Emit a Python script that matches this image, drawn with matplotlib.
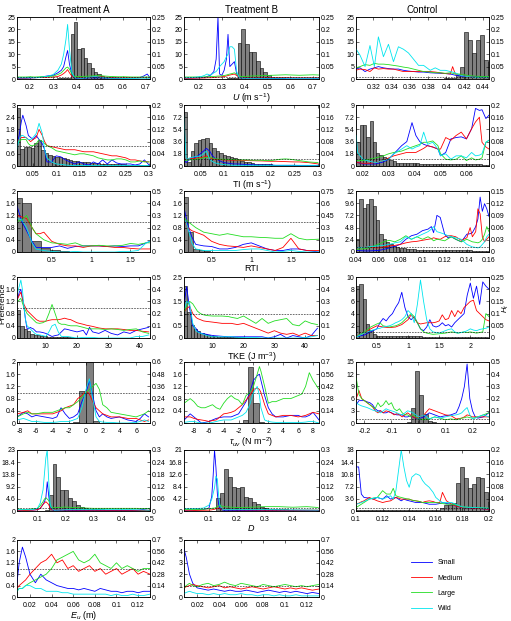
import numpy as np
import matplotlib.pyplot as plt
from matplotlib.lines import Line2D
from matplotlib.ticker import FuncFormatter

plt.rcParams['font.family'] = ['Liberation Sans', 'DejaVu Sans']
plt.rcParams['mathtext.fontset'] = 'custom'
plt.rcParams['mathtext.rm'] = 'Liberation Sans'
plt.rcParams['mathtext.it'] = 'Liberation Sans:italic'

# ---------------- data (preference lines on left axis, habitat bars on right axis) ----------------
groups = ['Small', 'Medium', 'Large', 'Wild']
treatments = ['Treatment A', 'Treatment B', 'Control']

# U, treatment A
u_a_x = [0.145, 0.16, 0.18, 0.2, 0.22, 0.24, 0.26, 0.28, 0.3, 0.32, 0.335, 0.345, 0.355, 0.362, 0.37, 0.38,
         0.39, 0.40, 0.42, 0.44, 0.46, 0.48, 0.50, 0.52, 0.55, 0.58, 0.61, 0.64, 0.67, 0.69, 0.705, 0.717]
u_a_small = [0.3, 0.3, 0.3, 0.4, 0.5, 0.6, 1.0, 1.3, 1.5, 2.5, 3.5, 5.0, 9.0, 11.5, 6.0, 2.0,
             0.6, 0.3, 0.3, 0.4, 0.5, 0.4, 0.5, 0.4, 0.4, 0.3, 0.3, 0.4, 0.5, 1.2, 2.0, 0.5]
u_a_medium = [0.4, 0.4, 0.4, 0.5, 0.5, 0.6, 0.6, 0.7, 0.8, 1.0, 1.6, 2.2, 3.0, 3.8, 2.5, 1.2,
              0.7, 0.5, 0.5, 0.6, 0.8, 1.0, 1.0, 0.8, 0.6, 0.5, 0.5, 0.5, 0.5, 0.5, 0.5, 0.5]
u_a_large = [0.8, 0.8, 0.8, 0.9, 0.8, 0.9, 1.0, 1.0, 1.2, 1.8, 2.5, 3.5, 4.5, 4.8, 4.0, 2.0,
             1.2, 1.0, 1.0, 1.1, 1.2, 1.3, 1.4, 1.2, 1.0, 0.9, 0.9, 0.8, 0.8, 0.8, 0.8, 0.8]
u_a_wild = [0.5, 0.5, 0.5, 0.6, 0.5, 0.6, 0.9, 1.2, 1.8, 3.5, 6.0, 10.0, 16.0, 22.0, 12.0, 3.0,
            0.8, 0.4, 0.3, 0.5, 0.8, 1.0, 0.8, 0.5, 0.3, 0.3, 0.2, 0.2, 0.3, 0.3, 0.3, 0.3]
u_a_bin0, u_a_binw = 0.303, 0.0144
u_a_bars = [0.002, 0.003, 0.003, 0.004, 0.006, 0.183, 0.23, 0.12, 0.126, 0.083, 0.063, 0.043, 0.029, 0.02,
            0.013, 0.01, 0.008, 0.006, 0.005, 0.004, 0.003, 0.003, 0.002, 0.002, 0.002, 0.002, 0.002, 0.002,
            0.002, 0.002]

# U, treatment B
u_b_x = [0.135, 0.15, 0.17, 0.19, 0.21, 0.225, 0.235, 0.25, 0.265, 0.275, 0.283, 0.29, 0.30, 0.31, 0.32,
         0.327, 0.335, 0.345, 0.355, 0.365, 0.375, 0.39, 0.41, 0.43, 0.46, 0.49, 0.52, 0.55, 0.58, 0.61,
         0.64, 0.67, 0.70, 0.726]
u_b_small = [0.3, 0.3, 0.4, 0.4, 0.5, 0.6, 1.0, 1.5, 3.0, 8.0, 25.0, 2.0, 1.5, 3.5, 8.0, 18.0, 5.0, 6.0,
             7.0, 2.0, 0.6, 0.4, 0.4, 0.4, 0.3, 0.3, 0.3, 0.3, 0.3, 0.3, 0.3, 0.3, 0.3, 0.3]
u_b_medium = [0.3, 0.3, 0.3, 0.4, 0.4, 0.4, 0.5, 0.5, 0.6, 0.7, 0.8, 0.8, 0.9, 1.0, 1.2, 1.4, 1.6, 1.8,
              2.0, 1.4, 0.8, 0.6, 0.5, 0.5, 0.5, 0.6, 0.6, 0.6, 0.6, 0.5, 0.5, 0.5, 0.5, 0.5]
u_b_large = [0.8, 0.8, 0.8, 0.8, 0.8, 0.9, 0.9, 1.0, 1.0, 1.1, 1.2, 1.2, 1.3, 1.4, 1.6, 1.8, 2.0, 2.2,
             2.5, 2.0, 1.2, 1.0, 1.1, 1.2, 1.3, 1.4, 1.5, 1.6, 1.7, 1.6, 1.5, 1.6, 1.7, 1.6]
u_b_wild = [0.5, 0.5, 0.6, 0.8, 1.0, 1.5, 2.0, 1.5, 2.5, 3.0, 4.0, 5.0, 6.0, 7.0, 9.0, 10.0, 13.0, 13.0,
            12.0, 3.0, 0.8, 0.4, 0.3, 0.3, 0.3, 0.3, 0.3, 0.3, 0.3, 0.3, 0.3, 0.3, 0.3, 0.3]
u_b_bin0, u_b_binw = 0.29, 0.016
u_b_bars = [0.002, 0.002, 0.003, 0.003, 0.004, 0.145, 0.203, 0.14, 0.11, 0.11, 0.072, 0.043, 0.03, 0.018,
            0.01, 0.006, 0.004, 0.003, 0.002, 0.002, 0.002, 0.002, 0.002, 0.002, 0.002, 0.002, 0.002, 0.002]

# U, control
u_c_x = [0.3006, 0.3054, 0.3109, 0.3163, 0.3211, 0.3255, 0.3310, 0.3365, 0.3420, 0.3474, 0.3529, 0.3584,
         0.3639, 0.3694, 0.3749, 0.3822, 0.3877, 0.3932, 0.3987, 0.4042, 0.4067, 0.4096, 0.4151, 0.4225,
         0.4298, 0.4371, 0.4444, 0.4473]
u_c_small = [4.0, 4.5, 3.0, 4.0, 4.5, 5.0, 4.5, 4.2, 4.0, 4.0, 3.5, 3.2, 3.0, 2.8, 2.8, 2.5, 2.4, 2.3, 2.2,
             2.0, 1.8, 1.5, 1.2, 1.0, 0.9, 0.8, 0.8, 0.8]
u_c_medium = [3.5, 4.0, 3.8, 3.0, 4.5, 4.0, 4.2, 4.0, 4.0, 3.5, 3.0, 3.0, 3.0, 3.0, 3.0, 3.0, 2.8, 2.5, 2.2,
              2.0, 5.0, 2.0, 1.8, 1.0, 0.8, 0.5, 0.5, 0.5]
u_c_large = [4.5, 5.0, 5.8, 5.5, 6.3, 6.0, 6.0, 5.8, 5.5, 5.2, 4.8, 4.5, 4.0, 3.5, 3.0, 2.8, 2.5, 2.5, 2.3,
             2.5, 2.3, 2.0, 2.0, 1.5, 1.2, 1.0, 1.0, 1.0]
u_c_wild = [12.3, 9.6, 5.0, 13.5, 5.0, 17.0, 9.0, 14.0, 7.0, 13.0, 12.0, 10.5, 8.0, 5.5, 5.5, 3.5, 4.5, 3.5,
            3.5, 3.0, 2.8, 2.5, 1.5, 1.0, 0.7, 0.5, 0.5, 0.5]
u_c_bin0, u_c_binw = 0.3928, 0.0044
u_c_bars = [0.002, 0.003, 0.004, 0.006, 0.015, 0.05, 0.19, 0.156, 0.106, 0.156, 0.178, 0.076, 0.07]

# TI, treatment A
ti_a_x = [0.015, 0.02, 0.025, 0.028, 0.035, 0.04, 0.045, 0.05, 0.057, 0.063, 0.07, 0.075, 0.08, 0.09, 0.1,
          0.11, 0.12, 0.13, 0.14, 0.15, 0.16, 0.17, 0.18, 0.19, 0.2, 0.21, 0.22, 0.23, 0.24, 0.25, 0.26,
          0.27, 0.28, 0.29, 0.3]
ti_a_small = [1.0, 1.5, 2.2, 2.5, 2.0, 1.5, 1.4, 1.3, 1.5, 1.3, 1.1, 0.8, 0.2, 0.2, 0.5, 0.45, 0.3, 0.2,
              0.1, 0.2, 0.1, 0.05, 0.2, 0.1, 0.3, 0.1, 0.3, 0.15, 0.1, 0.1, 0.1, 0.05, 0.1, 0.3, 0.05]
ti_a_medium = [1.2, 1.3, 1.4, 1.4, 1.4, 1.3, 1.2, 1.3, 1.4, 1.8, 1.5, 1.2, 1.0, 0.95, 0.9, 0.85, 0.8, 0.8,
               0.8, 0.75, 0.7, 0.7, 0.7, 0.65, 0.6, 0.55, 0.5, 0.5, 0.45, 0.4, 0.3, 0.3, 0.25, 0.22, 0.2]
ti_a_large = [1.1, 1.2, 1.3, 1.3, 1.3, 1.1, 1.0, 1.0, 1.1, 1.3, 1.2, 1.1, 1.0, 0.9, 0.75, 0.7, 0.65, 0.6,
              0.55, 0.6, 0.6, 0.55, 0.5, 0.4, 0.35, 0.3, 0.3, 0.35, 0.35, 0.3, 0.2, 0.2, 0.25, 0.2, 0.2]
ti_a_wild = [0.8, 1.3, 1.5, 1.5, 1.4, 1.3, 1.3, 1.4, 1.6, 2.1, 1.6, 0.8, 0.4, 0.2, 0.1, 0.08, 0.05, 0.03,
             0.02, 0.02, 0.02, 0.02, 0.02, 0.02, 0.02, 0.02, 0.02, 0.02, 0.02, 0.02, 0.02, 0.02, 0.02,
             0.02, 0.02]
ti_a_bin0, ti_a_binw = 0.015, 0.0075
ti_a_bars = [0.19, 0.057, 0.063, 0.063, 0.06, 0.074, 0.085, 0.052, 0.044, 0.037, 0.033, 0.03, 0.03,
             0.026, 0.022, 0.02, 0.018, 0.016, 0.014, 0.013, 0.012, 0.011, 0.01, 0.009, 0.008, 0.008,
             0.007, 0.006, 0.006, 0.005, 0.005, 0.004, 0.004, 0.003, 0.003, 0.003, 0.002, 0.002]

# TI, treatment B
ti_b_x = ti_a_x
ti_b_small = [1.0, 0.5, 0.8, 1.0, 1.2, 1.3, 1.5, 1.8, 2.2, 2.6, 2.2, 1.6, 1.2, 0.8, 0.5, 0.4, 0.3, 0.3,
              0.25, 0.2, 0.2, 0.15, 0.15, 0.15, 0.15, 0.1, 0.1, 0.1, 0.1, 0.1, 0.08, 0.08, 0.05, 0.05, 0.05]
ti_b_medium = [1.0, 1.0, 1.05, 1.1, 1.1, 1.15, 1.2, 1.2, 1.3, 1.5, 1.2, 1.1, 1.0, 0.95, 0.9, 0.88, 0.85,
               0.85, 0.82, 0.8, 0.78, 0.76, 0.75, 0.72, 0.7, 0.7, 0.68, 0.65, 0.62, 0.6, 0.6, 0.55, 0.5,
               0.4, 0.3]
ti_b_large = [0.8, 0.85, 0.9, 0.9, 0.95, 1.0, 1.05, 1.1, 1.2, 1.25, 1.3, 1.2, 1.1, 1.0, 1.0, 0.95, 0.95,
              0.9, 0.9, 0.9, 0.85, 0.85, 0.85, 0.8, 0.8, 0.9, 1.0, 1.05, 1.0, 0.9, 0.8, 0.7, 0.6, 0.55, 0.5]
ti_b_wild = [7.5, 1.0, 1.1, 1.2, 1.3, 1.4, 1.4, 1.5, 1.8, 2.2, 1.0, 0.7, 0.5, 0.3, 0.2, 0.15, 0.1, 0.1,
             0.1, 0.1, 0.1, 0.1, 0.1, 0.1, 0.1, 0.1, 0.1, 0.1, 0.1, 0.1, 0.1, 0.1, 0.1, 0.1, 0.1]
ti_b_bin0, ti_b_binw = 0.015, 0.0075
ti_b_bars = [0.178, 0.012, 0.05, 0.075, 0.085, 0.09, 0.092, 0.075, 0.06, 0.05, 0.042, 0.036, 0.032,
             0.031, 0.026, 0.022, 0.018, 0.014, 0.012, 0.01, 0.008, 0.007, 0.006, 0.005, 0.005, 0.004,
             0.004, 0.003, 0.003, 0.003, 0.003, 0.002, 0.002, 0.002, 0.002, 0.002, 0.002, 0.002]

# TI, control
ti_c_x = [0.0175, 0.018, 0.02, 0.0225, 0.025, 0.028, 0.03, 0.032, 0.035, 0.037, 0.039, 0.0405, 0.042,
          0.0435, 0.045, 0.047, 0.049, 0.05, 0.052, 0.054, 0.056, 0.058, 0.06, 0.062, 0.0635, 0.065, 0.066,
          0.0675, 0.0687]
ti_c_small = [0.5, 0.5, 0.3, 0.3, 0.3, 0.6, 1.0, 1.8, 3.0, 3.6, 6.4, 4.5, 3.6, 3.2, 3.0, 2.8, 2.5, 1.5,
              2.0, 4.0, 4.2, 4.3, 4.0, 5.5, 8.5, 8.2, 8.3, 7.0, 7.5]
ti_c_medium = [0.5, 0.5, 0.4, 0.4, 0.5, 0.8, 1.2, 1.5, 1.8, 2.0, 2.0, 2.0, 2.3, 2.6, 3.0, 2.8, 2.5, 2.5,
               4.2, 3.8, 4.5, 5.0, 4.0, 5.5, 6.5, 7.2, 3.5, 2.8, 2.5]
ti_c_large = [0.8, 0.8, 0.8, 1.0, 1.2, 1.5, 1.8, 2.0, 2.2, 2.5, 2.8, 3.0, 3.2, 3.5, 3.5, 3.7, 3.0, 1.8,
              1.0, 0.9, 1.0, 1.5, 0.8, 1.2, 0.9, 1.0, 1.2, 3.5, 3.8]
ti_c_wild = [4.5, 2.0, 1.0, 0.7, 0.5, 0.8, 1.0, 1.8, 2.5, 3.0, 2.5, 2.8, 3.0, 5.0, 3.2, 3.5, 2.5, 1.5,
             1.8, 1.0, 1.5, 1.5, 1.2, 2.0, 1.5, 1.6, 1.8, 3.5, 3.8]
ti_c_bin0, ti_c_binw = 0.0175, 0.00128
ti_c_bars = [0.08, 0.136, 0.136, 0.096, 0.147, 0.079, 0.044, 0.035, 0.031, 0.025, 0.02, 0.015, 0.011,
             0.009, 0.009, 0.009, 0.009, 0.009, 0.009, 0.008, 0.008, 0.008, 0.008, 0.008, 0.008, 0.008,
             0.007, 0.007, 0.007, 0.006, 0.006, 0.006, 0.005, 0.005, 0.005, 0.005, 0.005, 0.005, 0.004,
             0.004]

# RTI, treatment A
rti_a_x = [0.06, 0.12, 0.18, 0.25, 0.3, 0.35, 0.4, 0.45, 0.5, 0.6, 0.7, 0.8, 0.9, 1.0, 1.1, 1.2, 1.3, 1.4,
           1.5, 1.6, 1.7, 1.75]
rti_a_small = [1.5, 1.0, 0.7, 0.35, 0.15, 0.15, 0.15, 0.15, 0.15, 0.2, 0.12, 0.18, 0.2, 0.2, 0.2, 0.18,
               0.2, 0.18, 0.2, 0.2, 0.3, 0.35]
rti_a_medium = [1.2, 1.15, 1.1, 0.8, 0.6, 0.6, 0.65, 0.5, 0.35, 0.25, 0.2, 0.2, 0.15, 0.2, 0.2, 0.18,
                0.15, 0.15, 0.12, 0.1, 0.1, 0.1]
rti_a_large = [1.0, 1.05, 1.2, 0.8, 0.6, 0.5, 0.4, 0.35, 0.3, 0.28, 0.25, 0.3, 0.2, 0.2, 0.22, 0.2, 0.2,
               0.22, 0.28, 0.25, 0.3, 0.3]
rti_a_wild = [1.1, 1.05, 0.8, 0.3, 0.1, 0.07, 0.05, 0.03, 0.02, 0.0, 0.0, 0.02, 0.0, 0.0, 0.0, 0.0, 0.0,
              0.02, 0.02, 0.05, 0.3, 0.35]
rti_a_bin0, rti_a_binw = 0.0, 0.12
rti_a_bars = [0.44, 0.40, 0.088, 0.033, 0.013, 0.006, 0.004, 0.003, 0.002, 0.002, 0.002, 0.001, 0.001,
              0.001, 0.001]

# RTI, treatment B
rti_b_x = [0.16, 0.2, 0.25, 0.3, 0.4, 0.5, 0.6, 0.7, 0.8, 0.9, 1.0, 1.1, 1.2, 1.3, 1.4, 1.5, 1.6, 1.7, 1.85]
rti_b_small = [1.35, 0.9, 0.5, 0.25, 0.2, 0.18, 0.1, 0.1, 0.15, 0.25, 0.3, 0.2, 0.1, 0.05, 0.05, 0.1, 0.1,
               0.05, 0.0]
rti_b_medium = [1.0, 0.8, 0.7, 0.65, 0.55, 0.35, 0.25, 0.2, 0.18, 0.15, 0.2, 0.15, 0.1, 0.05, 0.15, 0.45,
                0.1, 0.05, 0.05]
rti_b_large = [1.1, 1.0, 0.9, 0.8, 0.65, 0.6, 0.55, 0.6, 0.55, 0.5, 0.5, 0.48, 0.47, 0.45, 0.45, 0.6, 0.45,
               0.4, 0.42]
rti_b_wild = [1.05, 0.8, 0.3, 0.1, 0.05, 0.05, 0.05, 0.05, 0.05, 0.08, 0.1, 0.1, 0.05, 0.0, 0.02, 0.05,
              0.02, 0.0, 0.0]
rti_b_bin0, rti_b_binw = 0.13, 0.07
rti_b_bars = [0.675, 0.25, 0.04, 0.02, 0.01, 0.006, 0.004, 0.003, 0.003, 0.002, 0.002, 0.002, 0.002, 0.001,
              0.001, 0.001, 0.001, 0.001, 0.001, 0.001, 0.001, 0.001, 0.001, 0.001, 0.001]

# RTI, control
rti_c_x = [0.04, 0.05, 0.06, 0.065, 0.07, 0.075, 0.08, 0.085, 0.09, 0.095, 0.1, 0.105, 0.108, 0.11, 0.113,
           0.116, 0.12, 0.123, 0.126, 0.13, 0.135, 0.14, 0.143, 0.145, 0.148, 0.15, 0.152, 0.154, 0.156,
           0.158, 0.16]
rti_c_small = [0.3, 0.2, 0.3, 0.5, 0.8, 1.1, 1.5, 2.5, 3.2, 3.5, 4.2, 4.5, 5.0, 3.8, 7.2, 6.8, 3.5, 2.8,
               3.0, 2.5, 2.0, 3.5, 3.6, 3.8, 5.0, 6.5, 10.8, 8.0, 9.5, 8.5, 7.0]
rti_c_medium = [0.8, 1.0, 0.8, 1.0, 1.2, 1.3, 1.5, 1.8, 2.0, 2.1, 2.3, 2.5, 2.6, 2.8, 2.6, 2.5, 3.0, 3.2,
                3.2, 3.0, 2.3, 2.8, 4.8, 3.0, 4.0, 8.5, 7.5, 3.0, 2.0, 2.5, 3.0]
rti_c_large = [0.5, 0.7, 1.5, 2.0, 2.3, 2.0, 2.5, 3.2, 2.5, 3.0, 2.5, 3.0, 2.6, 2.2, 2.5, 2.4, 2.2, 2.6,
               3.0, 2.5, 2.0, 2.5, 2.2, 2.0, 1.9, 1.8, 2.0, 2.5, 3.5, 5.0, 4.0]
rti_c_wild = [0.8, 1.0, 1.2, 1.3, 1.5, 1.8, 2.0, 3.0, 2.5, 3.0, 3.5, 4.0, 4.5, 5.0, 4.0, 3.8, 3.5, 3.2,
              3.0, 2.8, 2.5, 1.5, 1.2, 1.0, 0.9, 0.8, 1.0, 1.5, 2.0, 3.0, 3.5]
rti_c_bin0, rti_c_binw = 0.04, 0.003
rti_c_bars = [0.033, 0.13, 0.108, 0.119, 0.131, 0.113, 0.078, 0.045, 0.033, 0.025, 0.019, 0.015, 0.012,
              0.01, 0.009, 0.008, 0.007, 0.007, 0.006, 0.006, 0.006, 0.006, 0.006, 0.005, 0.005, 0.005,
              0.005, 0.005, 0.005, 0.004, 0.004, 0.004, 0.004, 0.004, 0.004, 0.003, 0.003, 0.003, 0.003,
              0.003]

# TKE, treatment A
tke_a_x = [1, 1.5, 2, 2.5, 3, 3.5, 4, 4.5, 5, 5.5, 6, 6.5, 7, 8, 9, 10, 11, 12, 13, 14, 15, 16, 17, 18, 20,
           22, 23, 24, 25, 27, 29, 31, 33, 35, 37, 39, 41, 43]
tke_a_small = [1.3, 1.5, 1.6, 1.3, 1.0, 0.6, 0.3, 0.3, 0.35, 0.32, 0.3, 0.25, 0.2,
               0.2, 0.18, 0.15, 0.1, 0.05, 0.08, 0.1, 0.2, 0.3, 0.28, 0.25,
               0.2, 0.25, 0.1, 0.35, 0.2, 0.15, 0.25, 0.15, 0.1, 0.2, 0.15, 0.25, 0.3, 0.35]
tke_a_medium = [1.3, 1.4, 1.5, 1.3, 1.1, 1.0, 0.9, 0.85, 0.8, 0.75, 0.7, 0.65, 0.6,
                0.55, 0.55, 0.55, 0.58, 0.6, 0.6, 0.6, 0.62, 0.65, 0.62, 0.6,
                0.5, 0.45, 0.42, 0.4, 0.38, 0.33, 0.3, 0.3, 0.3, 0.28, 0.25, 0.25, 0.22, 0.2]
tke_a_large = [1.2, 1.25, 1.3, 1.15, 1.0, 0.9, 0.8, 0.75, 0.7, 0.65, 0.6, 0.55, 0.5,
               0.48, 0.5, 0.55, 0.8, 1.1, 0.8, 0.5, 0.45, 0.45, 0.42, 0.4,
               0.4, 0.35, 0.32, 0.3, 0.3, 0.3, 0.28, 0.3, 0.28, 0.25, 0.28, 0.3, 0.2, 0.15]
tke_a_wild = [1.5, 1.7, 1.9, 1.6, 1.0, 0.6, 0.4, 0.35, 0.3, 0.25, 0.2, 0.15, 0.12,
              0.1, 0.08, 0.05, 0.2, 0.4, 0.45, 0.2, 0.05, 0.05, 0.05, 0.03,
              0.0, 0.02, 0.02, 0.02, 0.02, 0.0, 0.0, 0.0, 0.0, 0.0, 0.0, 0.05, 0.05, 0.1]
tke_a_bin0, tke_a_binw = 0.77, 1.06
tke_a_bars = [0.227, 0.1, 0.077, 0.055, 0.036, 0.027, 0.022, 0.018, 0.015, 0.012, 0.01, 0.009, 0.008,
              0.007, 0.006, 0.005, 0.005, 0.004, 0.004, 0.003, 0.003, 0.003, 0.003, 0.002, 0.002, 0.002,
              0.002, 0.002, 0.002, 0.002, 0.002, 0.002, 0.002, 0.002, 0.002, 0.002, 0.002, 0.002, 0.002,
              0.002]

# TKE, treatment B
tke_b_x = [0.8, 1.5, 2.5, 3.5, 4.5, 5, 6, 7, 8, 10, 13, 15, 16, 18, 20, 22, 24, 26, 28, 30, 32, 34, 36, 38,
           40, 42, 44]
tke_b_small = [1.5, 2.1, 1.2, 0.5, 0.4, 0.3, 0.2, 0.18, 0.15, 0.1, 0.07, 0.05, 0.05, 0.05, 0.05, 0.05,
               0.05, 0.05, 0.0, 0.05, 0.15, 0.0, 0.1, 0.05, 0.0, 0.1, 0.4]
tke_b_medium = [1.1, 1.2, 1.3, 1.0, 0.85, 0.8, 0.75, 0.7, 0.68, 0.65, 0.6, 0.6, 0.6, 0.55, 0.6, 0.5, 0.4,
                0.3, 0.2, 0.3, 0.2, 0.15, 0.2, 0.1, 0.2, 0.1, 0.1]
tke_b_large = [1.1, 1.3, 1.5, 1.4, 1.2, 1.1, 1.0, 0.95, 0.92, 0.9, 0.9, 0.88, 0.85, 0.8, 0.9, 0.75, 0.6,
               0.8, 0.6, 0.7, 0.75, 0.8, 0.55, 0.5, 0.7, 0.6, 0.55]
tke_b_wild = [1.2, 1.5, 1.4, 0.6, 0.3, 0.25, 0.2, 0.15, 0.1, 0.05, 0.05, 0.05, 0.05, 0.03, 0.02, 0.02,
              0.02, 0.0, 0.0, 0.0, 0.0, 0.0, 0.0, 0.0, 0.02, 0.05, 0.1]
tke_b_bin0, tke_b_binw = 0.65, 1.07
tke_b_bars = [0.43, 0.21, 0.104, 0.077, 0.055, 0.04, 0.03, 0.022, 0.018, 0.015, 0.012, 0.01, 0.009, 0.008,
              0.007, 0.006, 0.005, 0.005, 0.004, 0.004, 0.003, 0.003, 0.003, 0.003, 0.002, 0.002, 0.002,
              0.002, 0.002, 0.002, 0.002, 0.002, 0.002, 0.002, 0.002, 0.002, 0.002, 0.002, 0.002, 0.002,
              0.002]

# TKE, control
tke_c_x = [0.17, 0.3, 0.4, 0.5, 0.55, 0.6, 0.65, 0.7, 0.75, 0.8, 0.85, 0.9, 0.95, 1.0, 1.05, 1.1, 1.15,
           1.2, 1.25, 1.3, 1.35, 1.4, 1.45, 1.5, 1.55, 1.6, 1.65, 1.7, 1.75, 1.8, 1.85, 1.9, 1.95, 2.0,
           2.05, 2.1, 2.15, 2.2, 2.25, 2.3]
tke_c_small = [0.2, 0.5, 1.0, 1.5, 2.5, 3.2, 2.8, 3.5, 4.0, 5.0, 5.8, 7.5, 5.0, 3.5, 3.0, 3.5, 2.5, 1.5,
               1.2, 1.8, 3.0, 2.0, 1.8, 2.0, 2.5, 2.0, 2.2, 1.8, 2.5, 3.0, 3.5, 4.0, 7.0, 9.0, 6.5, 8.5,
               5.5, 9.2, 8.5, 8.0]
tke_c_medium = [0.3, 0.8, 1.5, 2.0, 1.9, 1.8, 1.75, 1.7, 1.75, 1.8, 2.0, 2.2, 2.6, 3.0, 3.8, 3.2, 2.5,
                2.3, 2.4, 2.5, 2.5, 2.5, 2.6, 2.8, 3.8, 3.0, 3.2, 4.5, 3.5, 4.5, 4.0, 5.0, 5.5, 6.0, 6.2,
                4.5, 4.0, 3.5, 3.0, 2.8]
tke_c_large = [0.2, 1.0, 1.8, 2.3, 2.5, 2.0, 1.9, 1.8, 1.9, 2.0, 2.2, 2.5, 3.0, 3.5, 4.0, 3.5, 2.5, 1.5,
               1.0, 0.8, 0.7, 0.6, 0.65, 0.7, 0.75, 0.8, 0.9, 1.0, 0.9, 0.8, 0.9, 1.0, 0.9, 1.0, 0.9, 0.8,
               0.9, 1.0, 4.0, 3.5]
tke_c_wild = [0.2, 0.8, 1.2, 1.5, 1.6, 1.8, 1.9, 2.0, 2.2, 2.5, 2.7, 3.0, 3.5, 4.5, 4.0, 2.5, 5.5, 9.5,
              6.0, 3.0, 1.5, 1.0, 0.9, 0.8, 1.0, 1.2, 1.4, 1.5, 1.0, 0.8, 0.9, 1.0, 1.2, 1.5, 1.3, 1.2,
              1.4, 1.5, 1.6, 1.8]
tke_c_bin0, tke_c_binw = 0.165, 0.053
tke_c_bars = [0.215, 0.22, 0.161, 0.059, 0.031, 0.018, 0.01, 0.009, 0.008, 0.007, 0.007, 0.007, 0.007,
              0.007, 0.007, 0.007, 0.008, 0.008, 0.009, 0.008, 0.006, 0.005, 0.005, 0.005, 0.004, 0.004,
              0.004, 0.004, 0.004, 0.003, 0.003, 0.003, 0.003, 0.003, 0.003, 0.003, 0.003, 0.003, 0.003,
              0.003]

# tau_uv, treatment A
tau_a_x = [-8.25, -7.5, -7, -6.5, -6, -5, -4, -3.5, -3, -2.5, -2, -1.5, -1, -0.5, 0, 0.4, 0.8, 1.2, 1.6,
           2, 2.5, 3, 4, 5, 6, 6.5, 7, 7.5]
tau_a_small = [0.2, 0.35, 0.3, 0.2, 0.25, 0.2, 0.15, 0.2, 0.5, 0.3, 0.15, 0.2, 0.3, 0.7, 1.0, 1.4, 0.9,
               0.4, 0.2, 0.3, 0.2, 0.15, 0.2, 0.1, 0.05, 0.15, 0.3, 0.2]
tau_a_medium = [0.3, 0.35, 0.4, 0.3, 0.3, 0.3, 0.3, 0.35, 0.4, 0.5, 0.55, 0.6, 0.8, 0.9, 1.05, 0.95, 0.7,
                0.5, 0.4, 0.3, 0.25, 0.2, 0.2, 0.15, 0.15, 0.1, 0.05, 0.1]
tau_a_large = [0.2, 0.3, 0.35, 0.3, 0.3, 0.35, 0.35, 0.4, 0.45, 0.5, 0.5, 0.6, 0.7, 0.85, 1.0, 1.1, 1.2,
               1.3, 1.1, 0.6, 0.5, 0.35, 0.3, 0.25, 0.2, 0.25, 0.3, 0.4]
tau_a_wild = [0.1, 0.15, 0.1, 0.05, 0.05, 0.02, 0.02, 0.03, 0.05, 0.05, 0.05, 0.1, 0.15, 0.5, 1.1, 1.45,
              0.8, 0.2, 0.05, 0.03, 0.02, 0.02, 0.0, 0.0, 0.02, 0.05, 0.1, 0.05]
tau_a_bin0, tau_a_binw = -8.8, 0.8
tau_a_bars = [0.001, 0.001, 0.001, 0.001, 0.001, 0.001, 0.001, 0.001, 0.001, 0.005, 0.31, 0.6, 0.016,
              0.003, 0.001, 0.001, 0.001, 0.001, 0.001, 0.001, 0.001]

# tau_uv, treatment B
tau_b_x = [-9.3, -8.5, -8, -7.5, -7, -6.5, -6, -5.5, -5, -4.5, -4, -3.5, -3, -2.5, -2, -1.5, -1, -0.5, 0,
           0.5, 0.8, 1, 1.5, 2, 2.5, 3, 4, 5, 6, 6.5, 7, 7.5, 8, 8.8]
tau_b_small = [0.1, 0.3, 0.2, 0.1, 0.0, 0.02, 0.05, 0.1, 0.15, 0.18, 0.2, 0.2, 0.2, 0.25, 0.3, 0.5, 0.7,
               1.0, 1.4, 1.55, 1.6, 1.4, 0.9, 0.5, 0.3, 0.2, 0.2, 0.25, 0.25, 0.2, 0.2, 0.25, 0.35, 0.1]
tau_b_medium = [0.2, 0.2, 0.15, 0.12, 0.1, 0.08, 0.05, 0.08, 0.1, 0.2, 0.3, 0.32, 0.35, 0.4, 0.5, 0.6,
                0.75, 0.9, 1.1, 1.15, 1.1, 1.0, 0.6, 0.3, 0.25, 0.2, 0.25, 0.25, 0.2, 0.22, 0.25, 0.3,
                0.35, 0.3]
tau_b_large = [0.65, 0.8, 0.7, 0.55, 0.5, 0.5, 0.55, 0.6, 0.5, 0.45, 0.65, 0.8, 0.9, 0.8, 0.75, 0.6, 0.9,
               1.0, 1.2, 1.6, 1.85, 1.7, 1.2, 0.65, 0.7, 0.7, 0.8, 0.8, 0.9, 0.95, 1.2, 1.65, 1.4, 1.1]
tau_b_wild = [0.02, 0.05, 0.05, 0.02, 0.0, 0.0, 0.0, 0.02, 0.05, 0.08, 0.1, 0.1, 0.1, 0.15, 0.2, 0.25,
              0.35, 0.6, 1.0, 1.2, 0.9, 0.5, 0.1, 0.05, 0.03, 0.02, 0.02, 0.02, 0.02, 0.02, 0.03, 0.05,
              0.05, 0.0]
tau_b_bin0, tau_b_binw = -9.8, 0.7
tau_b_bars = [0.001, 0.001, 0.001, 0.001, 0.001, 0.001, 0.001, 0.001, 0.001, 0.001, 0.001, 0.001, 0.04,
              0.647, 0.23, 0.01, 0.001, 0.001, 0.001, 0.001, 0.001, 0.001, 0.001, 0.001, 0.001, 0.001,
              0.001]

# tau_uv, control
tau_c_x = [-0.23, -0.22, -0.21, -0.2, -0.19, -0.18, -0.17, -0.16, -0.15, -0.14, -0.13, -0.12, -0.11, -0.1,
           -0.09, -0.08, -0.07, -0.06, -0.05, -0.04, -0.03, -0.02, -0.01, 0, 0.02, 0.04, 0.06, 0.08, 0.1,
           0.12, 0.14, 0.15, 0.16, 0.17, 0.18, 0.19, 0.2, 0.21, 0.22, 0.24, 0.26]
tau_c_small = [4.5, 5.5, 5.5, 5.5, 5.2, 5.0, 4.5, 3.5, 3.0, 3.0, 2.5, 2.5, 2.8, 2.5, 2.2, 2.0, 2.0, 2.0,
               1.5, 1.5, 1.8, 1.5, 1.2, 1.0, 1.5, 2.5, 2.0, 1.5, 1.8, 2.0, 2.5, 4.0, 6.0, 9.0, 14.5, 6.0,
               3.0, 1.5, 1.2, 1.5, 2.5]
tau_c_medium = [6.0, 8.0, 6.0, 5.5, 5.0, 4.5, 4.0, 3.0, 2.5, 3.0, 2.5, 3.0, 2.8, 2.5, 2.0, 2.3, 2.0, 1.5,
                2.0, 2.5, 2.0, 1.5, 1.2, 1.5, 2.0, 3.5, 3.0, 2.5, 2.0, 1.8, 1.0, 1.1, 1.2, 1.5, 2.0, 1.8,
                1.5, 1.5, 1.5, 1.5, 1.5]
tau_c_large = [11.0, 7.0, 6.0, 5.5, 5.0, 4.5, 4.0, 3.5, 5.0, 4.0, 4.5, 5.5, 4.5, 5.0, 3.5, 3.0, 3.5, 2.5,
               2.0, 2.0, 1.5, 2.0, 1.5, 1.0, 0.8, 1.0, 1.5, 1.2, 0.8, 1.0, 0.8, 1.0, 1.2, 1.3, 1.5, 1.3,
               1.2, 1.3, 1.5, 2.0, 2.5]
tau_c_wild = [5.0, 4.5, 4.2, 4.0, 3.8, 3.5, 3.2, 3.0, 2.8, 2.5, 3.0, 3.5, 3.2, 3.0, 2.8, 2.5, 2.2, 2.0,
              2.5, 3.0, 2.8, 2.5, 2.0, 1.5, 2.0, 1.0, 1.5, 1.2, 1.5, 1.8, 2.0, 2.2, 2.5, 3.2, 3.8, 2.0,
              1.0, 1.2, 1.5, 2.0, 1.5]
tau_c_bin0, tau_c_binw = -0.2365, 0.015
tau_c_bars = [0.002, 0.002, 0.002, 0.002, 0.002, 0.002, 0.002, 0.002, 0.002, 0.002, 0.002, 0.002, 0.002,
              0.008, 0.127, 0.427, 0.233, 0.073, 0.017, 0.007, 0.002, 0.002, 0.002, 0.002, 0.002, 0.002,
              0.002, 0.002, 0.002, 0.002, 0.002, 0.002, 0.002]

# D, treatment A
d_a_x = [0.03, 0.06, 0.08, 0.1, 0.11, 0.12, 0.125, 0.13, 0.135, 0.14, 0.145, 0.15, 0.16, 0.2, 0.25, 0.3,
         0.35, 0.4, 0.45, 0.5]
d_a_small = [0.3, 0.3, 0.3, 0.5, 1.0, 2.5, 3.5, 5.0, 11.0, 6.0, 1.5, 0.5, 0.3, 0.3, 0.2, 0.2, 0.2, 0.2,
             0.1, 1.0]
d_a_medium = [0.3, 0.2, 0.3, 0.5, 1.0, 2.5, 3.0, 3.5, 3.0, 2.5, 1.0, 0.5, 0.4, 0.4, 0.35, 0.3, 0.3, 0.3,
              0.3, 0.3]
d_a_large = [0.8, 0.5, 0.8, 1.0, 2.0, 3.5, 4.5, 5.0, 4.5, 4.0, 2.5, 1.5, 1.2, 1.5, 1.2, 1.0, 1.0, 1.0,
             1.0, 0.9]
d_a_wild = [0.5, 0.5, 0.5, 1.0, 3.0, 8.0, 14.0, 20.0, 23.0, 12.0, 3.0, 1.0, 0.3, 0.5, 0.6, 0.5, 0.6, 0.6,
            0.5, 0.3]
d_a_bin0, d_a_binw = 0.026, 0.0142
d_a_bars = [0.001, 0.001, 0.001, 0.001, 0.001, 0.001, 0.001, 0.004, 0.078, 0.23, 0.169, 0.103, 0.103,
            0.065, 0.049, 0.03, 0.02, 0.013, 0.01, 0.009, 0.008, 0.008, 0.007, 0.007, 0.006, 0.006, 0.006,
            0.005, 0.005, 0.005, 0.005, 0.004, 0.004, 0.004]

# D, treatment B
d_b_x = [0.011, 0.05, 0.08, 0.1, 0.11, 0.115, 0.12, 0.125, 0.13, 0.135, 0.14, 0.15, 0.2, 0.25, 0.3, 0.35,
         0.4, 0.45, 0.49]
d_b_small = [0.3, 0.3, 0.5, 1.0, 5.0, 12.0, 21.0, 15.0, 6.0, 2.0, 0.8, 0.3, 0.2, 0.15, 0.1, 0.1, 0.1, 0.1,
             0.1]
d_b_medium = [0.3, 0.2, 0.25, 0.3, 0.4, 0.5, 0.6, 0.8, 1.0, 0.9, 0.8, 0.5, 0.4, 0.35, 0.3, 0.3, 0.3, 0.3,
              0.3]
d_b_large = [0.5, 0.5, 0.6, 0.8, 0.9, 1.0, 1.0, 1.2, 1.5, 1.8, 2.0, 1.5, 1.2, 1.3, 1.5, 1.5, 1.3, 1.5, 1.2]
d_b_wild = [0.8, 0.8, 1.0, 2.0, 4.0, 6.0, 8.0, 12.0, 11.0, 5.0, 1.5, 0.5, 0.5, 0.5, 0.5, 0.45, 0.4, 0.35,
            0.3]
d_b_bin0, d_b_binw = 0.0102, 0.0143
d_b_bars = [0.001, 0.001, 0.001, 0.001, 0.001, 0.001, 0.001, 0.001, 0.063, 0.087, 0.207, 0.169, 0.12,
            0.111, 0.12, 0.07, 0.062, 0.046, 0.033, 0.021, 0.014, 0.012, 0.01, 0.009, 0.008, 0.008, 0.007,
            0.007, 0.006, 0.006, 0.006, 0.005, 0.005, 0.005, 0.005]

# D, control
d_c_x = [0.1, 0.102, 0.104, 0.106, 0.11, 0.113, 0.116, 0.12, 0.123, 0.126, 0.128, 0.13, 0.132, 0.134,
         0.136, 0.138, 0.14, 0.142, 0.145, 0.148, 0.15, 0.152, 0.155, 0.158, 0.16, 0.163, 0.165, 0.168,
         0.172, 0.175, 0.18, 0.19, 0.2]
d_c_small = [13.0, 13.0, 5.0, 4.0, 3.8, 3.5, 4.0, 3.5, 4.5, 3.5, 3.8, 4.0, 3.5, 3.0, 3.5, 3.2, 3.0, 2.8,
             2.5, 2.5, 2.5, 2.3, 2.0, 2.0, 2.0, 2.2, 2.5, 2.2, 2.0, 1.5, 1.0, 0.8, 0.5]
d_c_medium = [2.0, 2.3, 2.7, 3.0, 4.0, 3.5, 3.0, 2.5, 2.8, 3.0, 3.5, 4.0, 3.8, 3.5, 3.5, 3.5, 3.5, 3.2,
              3.0, 2.8, 2.5, 2.8, 3.0, 2.8, 2.5, 2.5, 5.5, 3.0, 2.0, 1.5, 1.0, 0.8, 0.5]
d_c_large = [1.0, 1.5, 2.0, 2.5, 3.5, 3.8, 4.0, 6.0, 5.0, 5.0, 6.7, 4.5, 4.2, 4.0, 3.8, 3.6, 3.5, 3.2,
             3.0, 2.8, 2.5, 2.5, 2.5, 2.5, 2.5, 2.3, 2.2, 2.0, 2.0, 1.8, 1.2, 1.0, 0.8]
d_c_wild = [2.0, 2.2, 2.5, 2.8, 3.5, 3.8, 4.0, 3.5, 4.0, 4.5, 3.5, 6.0, 12.0, 18.0, 13.0, 9.0, 7.0, 10.0,
            11.0, 10.5, 9.0, 8.0, 7.0, 5.5, 4.0, 3.0, 2.5, 2.5, 2.5, 2.0, 1.2, 1.0, 0.8]
d_c_bin0, d_c_binw = 0.1, 0.003
d_c_bars = [0.003, 0.003, 0.003, 0.003, 0.003, 0.003, 0.003, 0.003, 0.003, 0.003, 0.003, 0.003, 0.003,
            0.003, 0.003, 0.003, 0.003, 0.003, 0.003, 0.003, 0.003, 0.011, 0.02, 0.02, 0.025, 0.091,
            0.145, 0.107, 0.074, 0.087, 0.113, 0.109, 0.063, 0.03]

# E_u, treatment A
eu_a_x = [0.008, 0.01, 0.013, 0.016, 0.02, 0.025, 0.03, 0.035, 0.04, 0.045, 0.05, 0.055, 0.06, 0.065,
          0.07, 0.075, 0.08, 0.085, 0.09, 0.095, 0.1, 0.105, 0.11, 0.115, 0.12, 0.125, 0.131]
eu_a_small = [0.5, 1.2, 1.75, 1.4, 0.8, 0.5, 0.8, 0.6, 0.5, 0.4, 0.35, 0.3, 0.3, 0.25, 0.3, 0.25, 0.2,
              0.3, 0.25, 0.2, 0.2, 0.15, 0.2, 0.2, 0.15, 0.2, 0.2]
eu_a_medium = [0.3, 0.4, 0.5, 0.6, 0.8, 1.0, 1.2, 1.3, 1.5, 1.2, 1.3, 1.0, 1.1, 0.9, 1.0, 1.1, 0.9, 1.0,
               0.8, 0.9, 1.0, 0.8, 0.9, 1.0, 0.8, 0.9, 0.8]
eu_a_large = [0.2, 0.3, 0.3, 0.4, 0.5, 0.6, 0.7, 0.8, 1.0, 1.3, 1.4, 1.5, 1.6, 1.3, 1.2, 1.3, 1.5, 1.2,
              1.1, 1.0, 1.2, 1.0, 1.1, 1.0, 0.9, 1.0, 1.0]
eu_a_wild = [0.2, 0.3, 0.3, 0.4, 0.4, 0.3, 0.3, 0.2, 0.2, 0.2, 0.15, 0.15, 0.1, 0.1, 0.1, 0.1, 0.1, 0.1,
             0.1, 0.05, 0.1, 0.05, 0.05, 0.1, 0.05, 0.05, 0.1]
eu_a_bin0, eu_a_binw = 0.006, 0.004
eu_a_bars = [0.002, 0.002, 0.002, 0.002, 0.002, 0.002, 0.002, 0.002, 0.002, 0.002, 0.002, 0.002, 0.002,
             0.002, 0.002, 0.002, 0.002, 0.002, 0.002, 0.002, 0.002, 0.002, 0.002, 0.002, 0.002, 0.002,
             0.002, 0.002, 0.002, 0.002, 0.002, 0.002]

# E_u, treatment B
eu_b_x = eu_a_x
eu_b_small = [4.2, 3.5, 2.0, 1.2, 0.8, 0.7, 0.6, 0.7, 0.6, 0.5, 0.6, 0.5, 0.5, 0.6, 0.5, 0.4, 0.5, 0.6,
              0.5, 0.4, 0.5, 0.4, 0.5, 0.4, 0.3, 0.4, 0.3]
eu_b_medium = [0.8, 0.9, 1.0, 1.1, 1.0, 0.9, 0.8, 0.9, 1.0, 0.8, 0.9, 0.8, 0.7, 0.8, 0.9, 0.8, 0.7, 0.8,
               0.9, 0.8, 0.7, 0.8, 0.7, 0.8, 0.7, 0.6, 0.7]
eu_b_large = [0.8, 1.0, 1.2, 1.0, 0.9, 1.1, 1.2, 1.0, 1.1, 1.3, 1.1, 1.0, 1.2, 1.1, 1.0, 0.9, 1.1, 1.0,
              0.9, 1.0, 1.1, 1.0, 0.9, 1.0, 0.9, 1.0, 1.1]
eu_b_wild = [0.3, 0.4, 0.5, 0.4, 0.3, 0.3, 0.2, 0.3, 0.2, 0.3, 0.2, 0.2, 0.3, 0.2, 0.2, 0.1, 0.2, 0.2,
             0.1, 0.2, 0.1, 0.1, 0.2, 0.1, 0.1, 0.1, 0.1]
eu_b_bin0, eu_b_binw = 0.006, 0.004
eu_b_bars = eu_a_bars

# ---------------- figure ----------------
W, H = 511, 621
fig = plt.figure(figsize=(W / 100, H / 100), dpi=100)

colors = ['#0000ff', '#ff0000', '#22dd22', '#00e5ee']
col_left = [17, 184, 356]
col_w = [133, 135, 133]
row_top = [17, 105, 191, 277, 362, 450, 540]
row_h = [62, 61, 61, 61, 61, 61, 57]
fmt = FuncFormatter(lambda v, p: '%g' % round(v, 6))


def panel(row, col, x, lines, bin0, binw, bars, xlim, ymax, rmax, xticks):
    ax = fig.add_axes([col_left[col] / W, 1 - (row_top[row] + row_h[row]) / H,
                       col_w[col] / W, row_h[row] / H])
    ax2 = ax.twinx()
    edges = bin0 + binw * np.arange(len(bars))
    ax2.bar(edges, bars, width=binw, align='edge', color='#808080', edgecolor='k', lw=0.4)
    ax2.set_ylim(0, rmax)
    ax2.set_yticks(np.linspace(0, rmax, 6))
    ax.set_zorder(ax2.get_zorder() + 1)
    ax.patch.set_visible(False)
    for y, c in zip(lines, colors):
        ax.plot(x, y, color=c, lw=0.6)
    ax.axhline(1, color='k', lw=0.4, ls=(0, (3, 2)))
    ax.set_xlim(*xlim)
    ax.set_ylim(0, ymax)
    ax.set_yticks(np.linspace(0, ymax, 6))
    ax.set_xticks(xticks)
    for a in (ax, ax2):
        a.xaxis.set_major_formatter(fmt)
        a.yaxis.set_major_formatter(fmt)
        a.tick_params(labelsize=5, length=2, width=0.4, pad=1.2, direction='in')
        a.tick_params(axis='x', pad=3.5)
        for s in a.spines.values():
            s.set_linewidth(0.5)
    ax.tick_params(top=True, right=False)
    return ax


r = 0
axs = [
    panel(r, 0, u_a_x, [u_a_small, u_a_medium, u_a_large, u_a_wild], u_a_bin0, u_a_binw, u_a_bars,
          (0.144, 0.717), 25, 0.25, [0.2, 0.3, 0.4, 0.5, 0.6, 0.7]),
    panel(r, 1, u_b_x, [u_b_small, u_b_medium, u_b_large, u_b_wild], u_b_bin0, u_b_binw, u_b_bars,
          (0.134, 0.726), 25, 0.25, [0.2, 0.3, 0.4, 0.5, 0.6, 0.7]),
    panel(r, 2, u_c_x, [u_c_small, u_c_medium, u_c_large, u_c_wild], u_c_bin0, u_c_binw, u_c_bars,
          (0.301, 0.4465), 25, 0.25, [0.32, 0.34, 0.36, 0.38, 0.4, 0.42, 0.44]),
]
for ax, t in zip(axs, treatments):
    ax.set_title(t, fontsize=7, pad=3)
axs[1].set_xlabel(r'$U$ (m s$^{-1}$)', fontsize=6.5, labelpad=0)

r = 1
panel(r, 0, ti_a_x, [ti_a_small, ti_a_medium, ti_a_large, ti_a_wild], ti_a_bin0, ti_a_binw, ti_a_bars,
      (0.0155, 0.302), 3, 0.2, [0.05, 0.1, 0.15, 0.2, 0.25, 0.3])
ax = panel(r, 1, ti_b_x, [ti_b_small, ti_b_medium, ti_b_large, ti_b_wild], ti_b_bin0, ti_b_binw, ti_b_bars,
           (0.0155, 0.302), 9, 0.2, [0.05, 0.1, 0.15, 0.2, 0.25, 0.3])
ax.set_xlabel(r'TI (m s$^{-1}$)', fontsize=6.5, labelpad=0)
panel(r, 2, ti_c_x, [ti_c_small, ti_c_medium, ti_c_large, ti_c_wild], ti_c_bin0, ti_c_binw, ti_c_bars,
      (0.0174, 0.0687), 9, 0.2, [0.02, 0.03, 0.04, 0.05, 0.06])

r = 2
panel(r, 0, rti_a_x, [rti_a_small, rti_a_medium, rti_a_large, rti_a_wild], rti_a_bin0, rti_a_binw,
      rti_a_bars, (0.059, 1.748), 2, 0.5, [0.5, 1, 1.5])
ax = panel(r, 1, rti_b_x, [rti_b_small, rti_b_medium, rti_b_large, rti_b_wild], rti_b_bin0, rti_b_binw,
           rti_b_bars, (0.152, 1.854), 2, 0.75, [0.5, 1, 1.5])
ax.set_xlabel('RTI', fontsize=6.5, labelpad=0)
panel(r, 2, rti_c_x, [rti_c_small, rti_c_medium, rti_c_large, rti_c_wild], rti_c_bin0, rti_c_binw,
      rti_c_bars, (0.04, 0.16), 12, 0.15, [0.04, 0.06, 0.08, 0.1, 0.12, 0.14, 0.16])

r = 3
panel(r, 0, tke_a_x, [tke_a_small, tke_a_medium, tke_a_large, tke_a_wild], tke_a_bin0, tke_a_binw,
      tke_a_bars, (0.77, 43.4), 2, 0.5, [10, 20, 30, 40])
ax = panel(r, 1, tke_b_x, [tke_b_small, tke_b_medium, tke_b_large, tke_b_wild], tke_b_bin0, tke_b_binw,
           tke_b_bars, (0.65, 44.5), 2.5, 0.5, [10, 20, 30, 40])
ax.set_xlabel(r'TKE (J m$^{-3}$)', fontsize=6.5, labelpad=0)
panel(r, 2, tke_c_x, [tke_c_small, tke_c_medium, tke_c_large, tke_c_wild], tke_c_bin0, tke_c_binw,
      tke_c_bars, (0.165, 2.3), 10, 0.25, [0.5, 1, 1.5, 2])

r = 4
panel(r, 0, tau_a_x, [tau_a_small, tau_a_medium, tau_a_large, tau_a_wild], tau_a_bin0, tau_a_binw,
      tau_a_bars, (-8.28, 7.67), 2, 0.6, [-8, -6, -4, -2, 0, 2, 4, 6])
ax = panel(r, 1, tau_b_x, [tau_b_small, tau_b_medium, tau_b_large, tau_b_wild], tau_b_bin0, tau_b_binw,
           tau_b_bars, (-9.33, 8.8), 2, 0.7, [-8, -6, -4, -2, 0, 2, 4, 6, 8])
ax.set_xlabel(r'$\tau_{uv}$ (N m$^{-2}$)', fontsize=6.5, labelpad=0)
panel(r, 2, tau_c_x, [tau_c_small, tau_c_medium, tau_c_large, tau_c_wild], tau_c_bin0, tau_c_binw,
      tau_c_bars, (-0.231, 0.261), 15, 0.5, [-0.2, -0.1, 0, 0.1, 0.2])

r = 5
panel(r, 0, d_a_x, [d_a_small, d_a_medium, d_a_large, d_a_wild], d_a_bin0, d_a_binw, d_a_bars,
      (0.027, 0.502), 23, 0.3, [0.1, 0.2, 0.3, 0.4, 0.5])
ax = panel(r, 1, d_b_x, [d_b_small, d_b_medium, d_b_large, d_b_wild], d_b_bin0, d_b_binw, d_b_bars,
           (0.011, 0.493), 21, 0.3, [0.1, 0.2, 0.3, 0.4])
ax.set_xlabel(r'$D$', fontsize=6.5, labelpad=0)
panel(r, 2, d_c_x, [d_c_small, d_c_medium, d_c_large, d_c_wild], d_c_bin0, d_c_binw, d_c_bars,
      (0.1, 0.2), 18, 0.2, [0.1, 0.12, 0.14, 0.16, 0.18, 0.2])

r = 6
ax = panel(r, 0, eu_a_x, [eu_a_small, eu_a_medium, eu_a_large, eu_a_wild], eu_a_bin0, eu_a_binw,
           eu_a_bars, (0.008, 0.131), 2, 0.7, [0.02, 0.04, 0.06, 0.08, 0.1, 0.12])
ax.set_xlabel(r'$E_u$ (m)', fontsize=6.5, labelpad=0)
panel(r, 1, eu_b_x, [eu_b_small, eu_b_medium, eu_b_large, eu_b_wild], eu_b_bin0, eu_b_binw,
      eu_b_bars, (0.008, 0.131), 5, 0.7, [0.02, 0.04, 0.06, 0.08, 0.1, 0.12])

fig.text(3 / W, 1 - 303 / H, 'Preference', rotation=90, fontsize=6, ha='center', va='center')
fig.text(505.5 / W, 1 - 308.5 / H, r'$H_t$', rotation=90, fontsize=5.5, ha='center', va='center')

handles = [Line2D([], [], color=c, lw=0.6) for c in colors]
fig.legend(handles, groups, loc='upper left', bbox_to_anchor=(405 / W, 1 - 553 / H), frameon=False,
           fontsize=5, handlelength=3, labelspacing=1.2)

fig.savefig('out.png', dpi=100)
